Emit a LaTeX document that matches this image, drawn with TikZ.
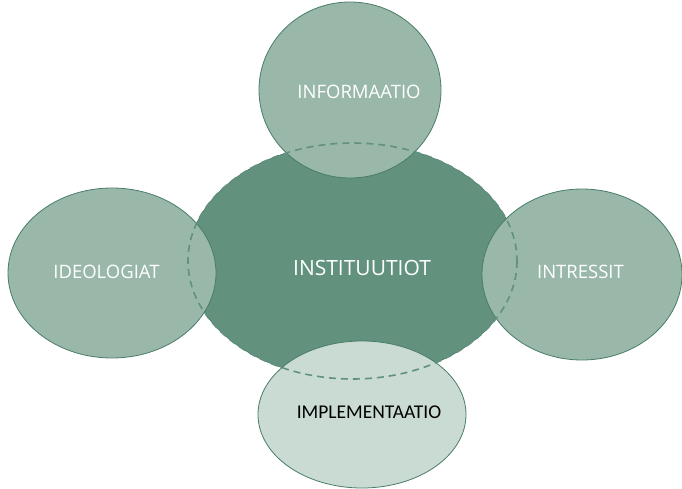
\documentclass[tikz,border=0pt]{standalone}
\usepackage{fontspec}
\setmainfont{Open Sans}
\newfontfamily\calib{Carlito}
\definecolor{darkg}{HTML}{62917E}
\definecolor{midg}{HTML}{99B8AA}
\definecolor{lightg}{HTML}{C9DBD3}
\definecolor{edgeg}{HTML}{4A7D69}
\begin{document}
\begin{tikzpicture}[x=1pt,y=-1pt,
  lbl/.style={font=\fontsize{18.5}{21}\selectfont, text=white, inner sep=0pt},
  ring/.style={draw=edgeg, line width=0.8pt},
]
\useasboundingbox (0,0) rectangle (682,489);
\path[fill=white] (0,0) rectangle (682,489);
% central
\filldraw[ring, fill=darkg, line width=0.6pt] (352.5,261) ellipse [x radius=164.5, y radius=118];
\node[lbl, font=\fontsize{21}{24}\selectfont] (inst) at (362,268) {INSTITUUTIOT};
% outer ellipses
\filldraw[ring, fill=midg] (350,90) ellipse [x radius=91, y radius=88];
\node[lbl] (info) at (359,92) {INFORMAATIO};
\filldraw[ring, fill=midg] (112,273) ellipse [x radius=104, y radius=85];
\node[lbl] (ideo) at (106.5,272) {IDEOLOGIAT};
\filldraw[ring, fill=midg] (582,274.5) ellipse [x radius=100, y radius=85.5];
\node[lbl] (intr) at (580.5,272) {INTRESSIT};
\filldraw[ring, fill=lightg] (362,414.5) ellipse [x radius=104, y radius=73.5];
\node[lbl, text=black, font=\calib\fontsize{19.5}{22}\selectfont] (impl) at (369,412) {IMPLEMENTAATIO};
% dashed outline of central
\draw[darkg, line width=1.6pt, dash pattern=on 7pt off 5pt] (352.5,261) ellipse [x radius=164.5, y radius=118];
\end{tikzpicture}
\end{document}
